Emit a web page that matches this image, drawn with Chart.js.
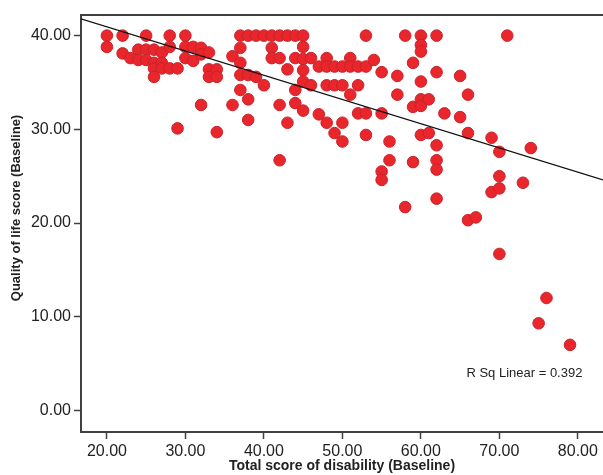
<!DOCTYPE html>
<html>
<head>
  <title>Quality of life vs total score of disability</title>
  <style>
    html, body { margin: 0; padding: 0; background: #ffffff; overflow: hidden; }
  </style>
</head>
<body>
  <canvas id="scatter" width="603" height="475"></canvas>

  <script src="https://cdn.jsdelivr.net/npm/chart.js"></script>
  <script>
    // disability score (x) and the quality of life scores seen at that x
    const disabilityScores = [20, 22, 23, 24, 25, 26, 27, 28, 29, 30, 31, 32, 33, 34, 36, 37, 38, 39, 40,
      41, 42, 43, 44, 45, 46, 47, 48, 49, 50, 51, 52, 53, 54, 55, 56, 57, 58, 59, 60,
      61, 62, 63, 65, 66, 67, 69, 70, 71, 73, 74, 75, 76, 79];
    const qolScores = [
      [40, 38.8], [40, 38.1], [37.6], [38.5, 37.4], [40, 38.5, 37.4],
      [38.5, 37.1, 36.5, 35.6], [38.2, 37.1, 36.5], [40, 38.8, 36.5], [36.5, 30.1],
      [40, 38.8, 37.6], [38.8, 37.3], [38.7, 38.0, 32.6], [38.2, 36.4, 35.6],
      [36.4, 35.6, 29.7], [37.8, 32.6], [40, 38.7, 37.1, 35.8, 34.2], [40, 35.8, 33.2, 31.0],
      [40, 35.6], [40, 34.7],
      [40, 38.7, 37.6], [40, 37.6, 32.6, 26.7], [40, 36.4, 30.7], [40, 37.6, 34.2, 32.8],
      [40, 38.8, 37.5, 36.3, 35.1, 32.0], [37.6, 34.7], [36.7, 31.6], [37.6, 36.7, 34.7, 30.7],
      [36.7, 34.7, 29.6], [36.7, 34.7, 30.7, 28.7], [37.6, 36.7, 33.7], [36.7, 34.7, 31.7],
      [40, 36.7, 31.7, 29.4], [37.4], [36.1, 31.7, 25.5, 24.6], [28.7, 26.7], [35.7, 33.7],
      [40, 21.7], [37.1, 32.4, 26.5], [40, 39, 38.3, 35.1, 33.2, 32.5, 29.4],
      [33.2, 29.6], [40, 36.1, 28.3, 26.7, 25.7, 22.6], [31.7], [35.7, 31.3],
      [33.7, 29.6, 20.3], [20.6], [29.1, 23.3], [27.6, 25, 23.7, 16.7], [40], [24.3], [28],
      [9.3], [12], [7]
    ];
    // fit line end points
    const fitLine = [[16.7, 41.8], [83.2, 24.6]];
    const rSquared = 0.392;

    const xTicks = [20, 30, 40, 50, 60, 70, 80];
    const yTicks = [0, 10, 20, 30, 40];

    const xTitle = 'Total score of disability (Baseline)';
    const yTitle = 'Quality of life score (Baseline)';

    let points = [];
    for (let i = 0; i < disabilityScores.length; i++) {
      for (let j = 0; j < qolScores[i].length; j++) {
        points.push({ x: disabilityScores[i], y: qolScores[i][j] });
      }
    }

    // top border of the frame, y title (sits above centre) and R squared label
    const framePlugin = {
      id: 'frame',
      afterDraw(chart) {
        const ctx = chart.ctx;
        const a = chart.chartArea;
        ctx.save();
        ctx.strokeStyle = '#404040';
        ctx.lineWidth = 2;
        ctx.beginPath();
        ctx.moveTo(a.left, a.top);
        ctx.lineTo(a.right, a.top);
        ctx.stroke();

        ctx.fillStyle = '#222222';
        ctx.font = '13px "Liberation Sans", Arial, sans-serif';
        ctx.textBaseline = 'middle';
        ctx.fillText('R Sq Linear = ' + rSquared.toFixed(3), chart.scales.x.getPixelForValue(65.8), chart.scales.y.getPixelForValue(4.0));

        ctx.translate(16, 208);
        ctx.rotate(-Math.PI / 2);
        ctx.textAlign = 'center';
        ctx.font = 'bold 13px "Liberation Sans", Arial, sans-serif';
        ctx.fillText(yTitle, 0, 0);
        ctx.restore();
      }
    };

    const tickFont = { family: '"Liberation Sans", Arial, sans-serif', size: 16 };

    new Chart(document.getElementById('scatter').getContext('2d'), {
      type: 'scatter',
      data: {
        datasets: [{
          label: 'Subjects',
          data: points,
          pointRadius: 5.8,
          pointHoverRadius: 5.8,
          backgroundColor: '#e8262c',
          borderColor: '#c8232a',
          borderWidth: 1,
          order: 2
        }, {
          type: 'line',
          label: 'Fit',
          data: fitLine.map(p => ({ x: p[0], y: p[1] })),
          borderColor: '#111111',
          borderWidth: 1.3,
          pointRadius: 0,
          fill: false,
          order: 1
        }]
      },
      options: {
        responsive: false,
        animation: false,
        devicePixelRatio: 1,
        layout: { autoPadding: false, padding: { top: 15, right: 0, left: 0, bottom: 0 } },
        plugins: { legend: { display: false }, tooltip: { enabled: false } },
        scales: {
          x: {
            type: 'linear',
            min: 16.7,
            max: 83.2,
            afterBuildTicks: scale => { scale.ticks = xTicks.map(v => ({ value: v })); },
            afterFit: scale => { scale.height = 43; scale.paddingRight = 0; scale.paddingLeft = 0; },
            ticks: {
              font: tickFont,
              color: '#222222',
              padding: 3,
              maxRotation: 0,
              callback: v => v.toFixed(2)
            },
            grid: { drawOnChartArea: false, drawTicks: true, tickLength: 7, tickColor: '#404040', tickWidth: 1.5 },
            border: { display: true, color: '#404040', width: 2 },
            title: {
              display: true,
              text: xTitle,
              font: { family: '"Liberation Sans", Arial, sans-serif', size: 14, weight: 'bold' },
              color: '#222222',
              padding: { top: 0, bottom: 0 }
            }
          },
          y: {
            type: 'linear',
            min: -2.3,
            max: 42.2,
            afterBuildTicks: scale => { scale.ticks = yTicks.map(v => ({ value: v })); },
            afterFit: scale => { scale.width = 81; scale.paddingTop = 0; scale.paddingBottom = 0; },
            ticks: {
              font: tickFont,
              color: '#222222',
              padding: 3,
              callback: v => v.toFixed(2)
            },
            grid: { drawOnChartArea: false, drawTicks: true, tickLength: 7, tickColor: '#404040', tickWidth: 1.5 },
            border: { display: true, color: '#404040', width: 2 },
            title: { display: false }
          }
        }
      },
      plugins: [framePlugin]
    });
  </script>
</body>
</html>
